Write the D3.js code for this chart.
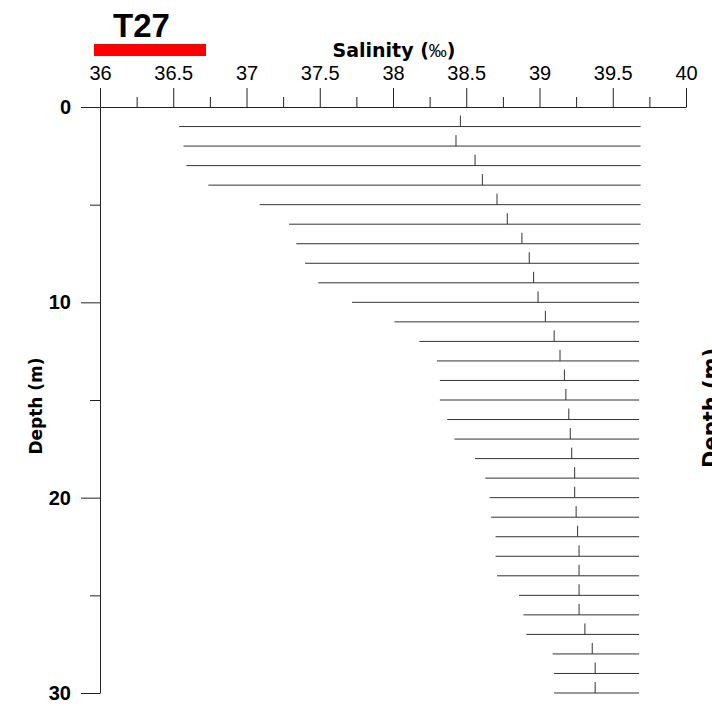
<!DOCTYPE html>
<html>
<head>
<meta charset="utf-8">
<script src="https://cdn.jsdelivr.net/npm/d3@7"></script>
<style>
  html, body { margin: 0; padding: 0; background: #fff; }
  svg { display: block; }
</style>
</head>
<body>
<script>
// station T27: salinity range per depth (min .. max) with mean marked
const depths = d3.range(1, 31);
const salMin = [
  36.54, 36.57, 36.59, 36.74, 37.09, 37.29, 37.34, 37.40, 37.49, 37.72,
  38.01, 38.18, 38.30, 38.32, 38.32, 38.37, 38.42, 38.56, 38.63, 38.66,
  38.67, 38.70, 38.70, 38.71, 38.86, 38.89, 38.91, 39.09, 39.10, 39.10
];
const salMean = [
  38.46, 38.43, 38.56, 38.61, 38.71, 38.78, 38.88, 38.93, 38.96, 38.99,
  39.04, 39.10, 39.14, 39.17, 39.18, 39.20, 39.21, 39.22, 39.24, 39.24,
  39.25, 39.26, 39.27, 39.27, 39.27, 39.27, 39.31, 39.36, 39.38, 39.38
];
const salMax = [
  39.69, 39.69, 39.69, 39.69, 39.69, 39.69, 39.68, 39.68, 39.68, 39.68,
  39.68, 39.68, 39.68, 39.68, 39.68, 39.68, 39.68, 39.68, 39.68, 39.68,
  39.68, 39.68, 39.68, 39.68, 39.68, 39.68, 39.68, 39.68, 39.68, 39.68
];
const xMajor = [36, 36.5, 37, 37.5, 38, 38.5, 39, 39.5, 40];
const xMinor = [36.25, 36.75, 37.25, 37.75, 38.25, 38.75, 39.25, 39.75];
const yMajor = [0, 10, 20, 30];
const yMinor = [5, 15, 25];

const width = 712, height = 706;

const x = d3.scaleLinear().domain([36, 40]).range([100, 686]);
const y = d3.scaleLinear().domain([0, 30]).range([107, 693]);

const svg = d3.select('body').append('svg')
  .attr('width', width)
  .attr('height', height);

const rows = depths.map((d, i) => ({
  depth: d, min: salMin[i], mean: salMean[i], max: salMax[i]
}));

// range lines
const g = svg.append('g');
g.selectAll('line.range')
  .data(rows)
  .enter().append('line')
  .attr('class', 'range')
  .attr('x1', (d) => x(d.min))
  .attr('x2', (d) => x(d.max))
  .attr('y1', (d) => y(d.depth))
  .attr('y2', (d) => y(d.depth))
  .attr('stroke', '#333')
  .attr('stroke-width', 1);

// mean marks
g.selectAll('line.mean')
  .data(rows)
  .enter().append('line')
  .attr('class', 'mean')
  .attr('x1', (d) => x(d.mean))
  .attr('x2', (d) => x(d.mean))
  .attr('y1', (d) => y(d.depth) - 11)
  .attr('y2', (d) => y(d.depth))
  .attr('stroke', '#333')
  .attr('stroke-width', 1);

// x axis (top)
const xAxisG = svg.append('g').attr('transform', `translate(0,${y(0)})`);
xAxisG.call(d3.axisTop(x).tickValues(xMajor).tickSize(19).tickSizeOuter(0).tickPadding(8)
  .tickFormat((d) => String(d)));
xAxisG.append('g').call(d3.axisTop(x).tickValues(xMinor).tickSize(10).tickFormat(''))
  .select('.domain').remove();
xAxisG.selectAll('text')
  .attr('font-family', 'Liberation Sans, Arial, sans-serif')
  .attr('font-size', 20)
  .attr('fill', '#000');

// y axis (left)
const yAxisG = svg.append('g').attr('transform', `translate(${x(36)},0)`);
yAxisG.call(d3.axisLeft(y).tickValues(yMajor).tickSize(19).tickSizeOuter(0).tickPadding(10));
yAxisG.append('g').call(d3.axisLeft(y).tickValues(yMinor).tickSize(10).tickFormat(''))
  .select('.domain').remove();
yAxisG.selectAll('text')
  .attr('font-family', 'Liberation Sans, Arial, sans-serif')
  .attr('font-size', 20)
  .attr('font-weight', 'bold')
  .attr('fill', '#000');

svg.selectAll('.domain, .tick line').attr('stroke', '#222');

// titles
const salTitle = svg.append('text')
  .attr('x', 394).attr('y', 57)
  .attr('text-anchor', 'middle')
  .attr('font-family', 'DejaVu Sans, Verdana, sans-serif')
  .attr('font-size', 19)
  .attr('font-weight', 'bold');
salTitle.append('tspan').text('Salinity (');
salTitle.append('tspan')
  .attr('font-family', 'Liberation Sans, Arial, sans-serif')
  .attr('font-size', 18)
  .attr('font-weight', 'normal')
  .text('‰');
salTitle.append('tspan').text(')');

svg.append('text')
  .attr('transform', 'translate(42,406) rotate(-90)')
  .attr('text-anchor', 'middle')
  .attr('font-family', 'DejaVu Sans, Verdana, sans-serif')
  .attr('font-size', 17)
  .attr('font-weight', 'bold')
  .text('Depth (m)');

// second panel's axis title, clipped by the picture edge as in the original
svg.append('text')
  .attr('transform', 'translate(718,408) rotate(-90)')
  .attr('text-anchor', 'middle')
  .attr('font-family', 'DejaVu Sans, Verdana, sans-serif')
  .attr('font-size', 21)
  .attr('font-weight', 'bold')
  .text('Depth (m)');

// station label
svg.append('text')
  .attr('x', 113).attr('y', 37)
  .attr('font-family', 'Liberation Sans, Arial, sans-serif')
  .attr('font-size', 33)
  .attr('font-weight', 'bold')
  .text('T27');

svg.append('rect')
  .attr('x', 94).attr('y', 44)
  .attr('width', 112).attr('height', 12)
  .attr('fill', '#ff0000');
</script>
</body>
</html>
